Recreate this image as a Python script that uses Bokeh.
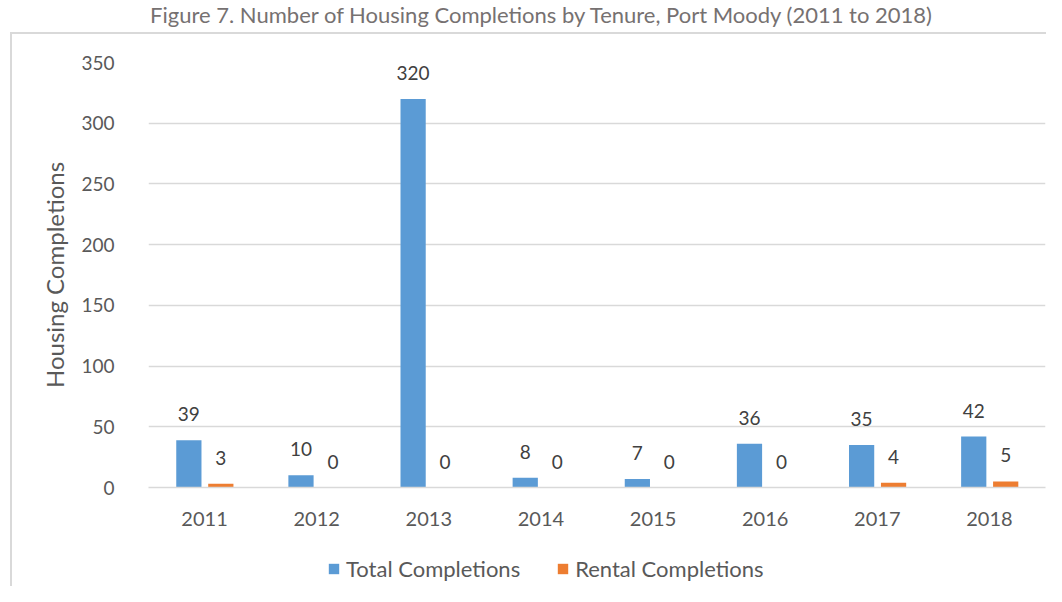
from bokeh.plotting import figure
from bokeh.models import (ColumnDataSource, FactorRange, Range1d, FixedTicker, LabelSet,
                          Legend, LegendItem, Div, Spacer)
from bokeh.layouts import column, row
from bokeh.transform import dodge
from bokeh.core.properties import value
from bokeh.embed import file_html
from bokeh.resources import INLINE

years = ["2011", "2012", "2013", "2014", "2015", "2016", "2017", "2018"]
total = [39, 10, 320, 8, 7, 36, 35, 42]
rental = [3, 0, 0, 0, 0, 0, 4, 5]
y_ticks = [0, 50, 100, 150, 200, 250, 300, 350]
series_names = ["Total Completions", "Rental Completions"]
title_text = "Figure 7. Number of Housing Completions by Tenure, Port Moody (2011 to 2018)"

FONT = "Lato"
TXT = "#595959"
BORDER = "#d9d9d9"
BLUE = "#5B9BD5"
ORANGE = "#ED7D31"

src = ColumnDataSource(dict(
    year=years, total=total, rental=rental,
    total_lbl=[str(v) for v in total], rental_lbl=[str(v) for v in rental],
))

title = Div(text=('<div style="position:relative;left:18px;width:1046px;text-align:center;'
                  'font-family:Lato;font-size:22px;color:#767171;line-height:29px;white-space:nowrap">'
                  + title_text + '</div>'),
            width=1046, height=32, margin=0)

top_line = Div(text="", width=1036, height=2, margin=0, styles={"background-color": BORDER})
left_line = Div(text="", width=2, height=552, margin=0, styles={"background-color": BORDER})

p = figure(x_range=FactorRange(*years), y_range=Range1d(0, 350),
           frame_width=897, frame_height=425,
           output_backend="svg", toolbar_location=None,
           min_border_left=136, min_border_right=1, min_border_top=28, min_border_bottom=55)
p.margin = 0
p.outline_line_color = None
p.background_fill_color = "white"
p.border_fill_color = "white"

p.vbar(x=dodge("year", -0.14, range=p.x_range), top="total", width=0.225, source=src,
       fill_color=BLUE, line_color=None)
p.vbar(x=dodge("year", 0.145, range=p.x_range), top="rental", width=0.225, source=src,
       fill_color=ORANGE, line_color=None)

for col, lbl, off in (("total", "total_lbl", -0.14), ("rental", "rental_lbl", 0.145)):
    ls = LabelSet(x=dodge("year", off, range=p.x_range), y=col, text=lbl, source=src,
                  y_offset=26, text_align="center", text_baseline="middle",
                  text_font=value(FONT), text_font_size="19px", text_color="#404040")
    p.add_layout(ls)

# axes
p.yaxis.ticker = FixedTicker(ticks=y_ticks)
p.yaxis.axis_line_color = None
p.yaxis.major_tick_line_color = None
p.yaxis.minor_tick_line_color = None
p.yaxis.major_label_standoff = 28
p.yaxis.major_label_text_font = FONT
p.yaxis.major_label_text_font_size = "19px"
p.yaxis.major_label_text_color = TXT
p.yaxis.axis_label = "Housing Completions"
p.yaxis.axis_label_text_font = FONT
p.yaxis.axis_label_text_font_size = "24px"
p.yaxis.axis_label_text_font_style = "normal"
p.yaxis.axis_label_text_color = TXT
p.yaxis.axis_label_standoff = 9

p.xaxis.axis_line_color = BORDER
p.xaxis.axis_line_width = 1.5
p.xaxis.major_tick_line_color = None
p.xaxis.minor_tick_line_color = None
p.xaxis.major_label_standoff = 18
p.xaxis.major_label_text_font = FONT
p.xaxis.major_label_text_font_size = "20px"
p.xaxis.major_label_text_color = TXT

p.xgrid.grid_line_color = None
p.ygrid.grid_line_color = BORDER
p.ygrid.grid_line_width = 1.5

# legend strip (own small figure so the legend is not clipped by the main frame);
# its bars lie far outside the visible y range, only their legend swatches show
lf = figure(frame_width=1034, frame_height=44, x_range=FactorRange(*years), y_range=Range1d(5000, 5010),
            output_backend="svg", toolbar_location=None,
            x_axis_location=None, y_axis_location=None,
            min_border_left=0, min_border_right=0, min_border_top=0, min_border_bottom=0)
lf.margin = 0
lf.outline_line_color = None
lf.xgrid.visible = False
lf.ygrid.visible = False
lr1 = lf.vbar(x="year", top="total", width=0.225, source=src, fill_color=BLUE, line_color=None)
lr2 = lf.vbar(x="year", top="rental", width=0.225, source=src, fill_color=ORANGE, line_color=None)
legend = Legend(items=[LegendItem(label=series_names[0], renderers=[lr1]),
                       LegendItem(label=series_names[1], renderers=[lr2])],
                location=(315, 4), orientation="horizontal",
                border_line_color=None, background_fill_alpha=0,
                padding=0, margin=0, spacing=36, label_standoff=6,
                glyph_width=13, glyph_height=13, label_height=24,
                label_text_font=FONT, label_text_font_size="22px", label_text_color=TXT)
lf.add_layout(legend)

layout = column(
    title,
    row(Spacer(width=10, height=2, margin=0), top_line, spacing=0, margin=0),
    row(Spacer(width=10, height=552, margin=0), left_line,
        column(p, lf, spacing=0, margin=0), spacing=0, margin=0),
    spacing=0, margin=0,
)
open("out.html", "w").write(file_html(layout, INLINE))
